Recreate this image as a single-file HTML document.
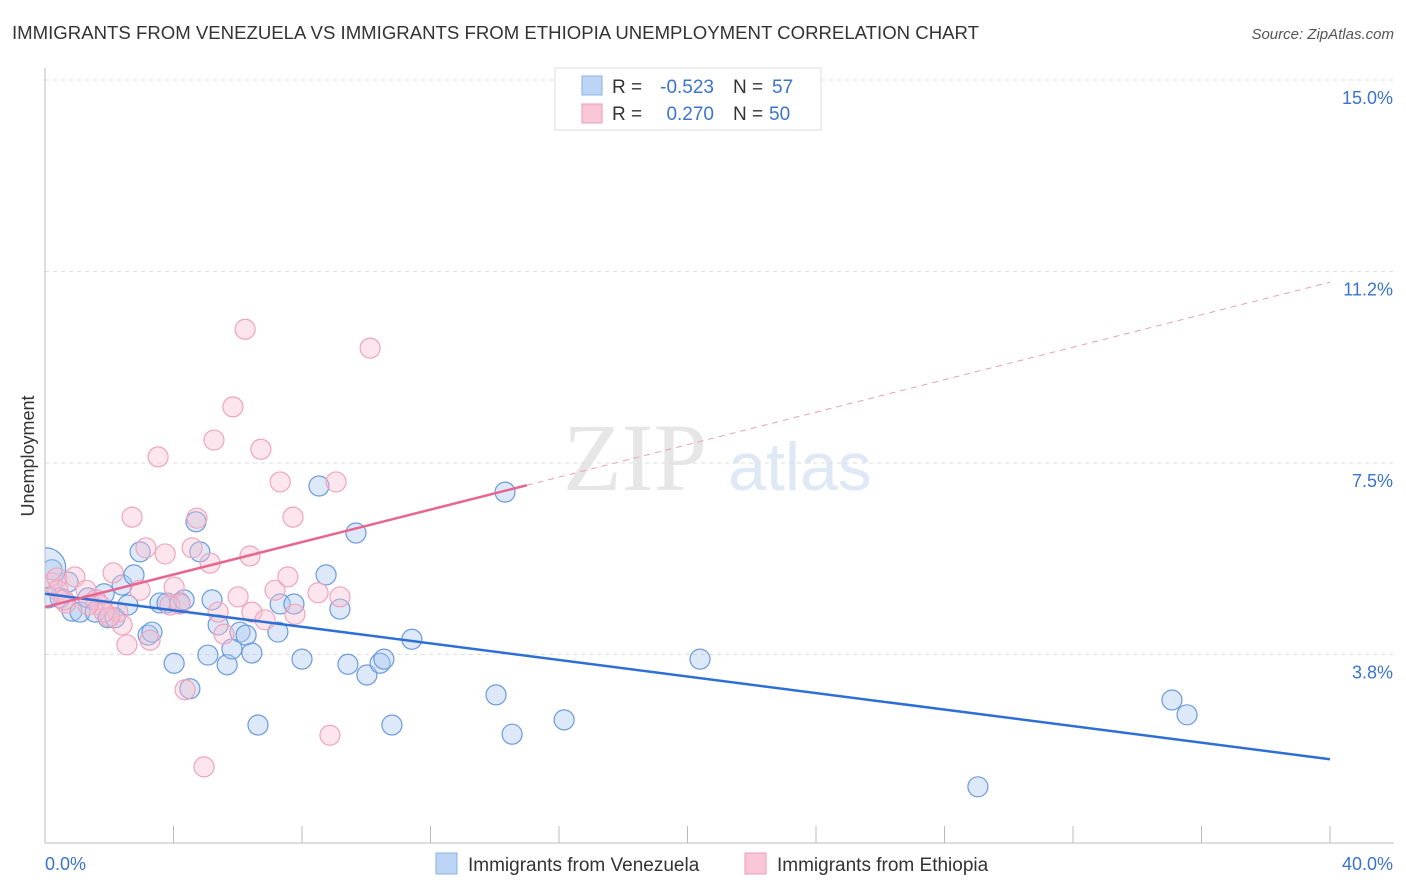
<!DOCTYPE html>
<html><head><meta charset="utf-8"><style>
body{margin:0;background:#fff;font-family:"Liberation Sans",sans-serif;}
svg{display:block}
</style></head><body>
<svg id="chart" width="1406" height="892">
<defs><clipPath id="plotclip"><rect x="45" y="60" width="1360" height="783"/></clipPath></defs>
<text x="12" y="39" font-size="18.6" fill="#333">IMMIGRANTS FROM VENEZUELA VS IMMIGRANTS FROM ETHIOPIA UNEMPLOYMENT CORRELATION CHART</text>
<text x="1394" y="39" font-size="15" fill="#555" font-style="italic" text-anchor="end">Source: ZipAtlas.com</text>
<text x="635" y="490" font-size="96" fill="#e6e6e6" font-family="Liberation Serif,serif" text-anchor="middle">ZIP</text>
<text x="800" y="490" font-size="68" fill="#dfe8f5" text-anchor="middle">atlas</text>
<text transform="translate(34,456) rotate(-90)" font-size="18" fill="#333" text-anchor="middle">Unemployment</text>
<g id="grid"></g><g id="axes"></g><g id="pts" clip-path="url(#plotclip)"></g><g id="lines"></g>
<g>
<rect x="555" y="68" width="266" height="62" fill="#fff" stroke="#ddd"/>
<rect x="582" y="76" width="20" height="19" fill="#bcd5f5" stroke="#8ab0e6"/>
<rect x="582" y="104" width="20" height="19" fill="#f9c6d6" stroke="#ee9ab5"/>
<text x="612" y="93" font-size="19" fill="#333">R =</text>
<text x="714" y="93" font-size="19" fill="#3a73d0" text-anchor="end">-0.523</text>
<text x="733" y="93" font-size="19" fill="#333">N =</text>
<text x="772" y="93" font-size="19" fill="#3a73d0">57</text>
<text x="612" y="120" font-size="19" fill="#333">R =</text>
<text x="714" y="120" font-size="19" fill="#3a73d0" text-anchor="end">0.270</text>
<text x="733" y="120" font-size="19" fill="#333">N =</text>
<text x="769" y="120" font-size="19" fill="#3a73d0">50</text>
</g>
<g>
<rect x="436" y="853" width="21" height="21" fill="#bcd5f5" stroke="#8ab0e6"/>
<text x="468" y="871" font-size="19" fill="#333">Immigrants from Venezuela</text>
<rect x="745" y="853" width="21" height="21" fill="#f9c6d6" stroke="#ee9ab5"/>
<text x="777" y="871" font-size="19" fill="#333">Immigrants from Ethiopia</text>
</g>
</svg>
<script>
const yTicks=[15,11.25,7.5,3.75];
const yTickLabels=["15.0%","11.2%","7.5%","3.8%"];
const xEnds=[0,40];
const xEndLabels=["0.0%","40.0%"];
const blueX=[0.22,0.47,0.72,0.84,1.09,1.34,1.56,1.84,1.96,2.18,2.40,2.58,2.77,2.96,3.21,3.33,3.58,3.80,4.02,4.20,4.33,4.51,4.70,4.82,5.07,5.20,5.39,5.67,5.82,6.07,6.26,6.44,6.63,7.25,7.32,7.75,8.00,8.53,8.75,9.18,9.43,9.68,10.02,10.43,10.55,10.80,11.42,14.04,14.32,14.54,16.16,20.39,29.04,35.08,35.55,0.10,0.02];
const blueY=[5.41,4.86,5.17,4.60,4.58,4.86,4.58,4.94,4.47,4.47,5.11,4.72,5.31,5.76,4.13,4.19,4.76,4.76,3.58,4.76,4.82,3.08,6.35,5.76,3.74,4.82,4.33,3.55,3.86,4.19,4.13,3.78,2.37,4.19,4.74,4.74,3.66,7.05,5.31,4.64,3.56,6.13,3.35,3.58,3.66,2.37,4.05,2.96,6.93,2.19,2.47,3.66,1.16,2.86,2.57,4.86,5.45];
const pinkX=[0.22,0.37,0.65,0.93,1.28,1.59,1.71,2.12,2.27,2.40,2.55,2.71,2.96,3.14,3.27,3.52,3.74,3.89,4.02,4.20,4.36,4.58,4.73,4.95,5.14,5.26,5.39,5.57,5.85,6.01,6.23,6.38,6.44,6.72,6.85,7.16,7.32,7.56,7.72,7.78,8.50,8.87,9.06,9.18,10.12,0.40,2.02,1.84,1.34,0.59];
const pinkY=[5.15,5.25,4.76,5.27,5.01,4.82,4.72,5.35,4.58,4.33,3.94,6.44,5.01,5.84,4.03,7.62,5.72,4.72,5.07,4.74,3.06,5.84,6.42,1.55,5.54,7.95,4.58,4.15,8.60,4.88,10.12,5.68,4.58,7.77,4.43,5.01,7.13,5.27,6.44,4.54,4.96,2.17,7.13,4.88,9.75,5.01,4.49,4.58,4.72,4.82];
const blueTrend=[4.94,1.70];
const pinkTrend=[4.68,11.04];
const pinkSolidEnd=15;
const NS="http://www.w3.org/2000/svg";
const X=v=>45+v*32.125, Y=v=>80+(15-v)*51.07;
function mk(tag,attrs,parent){const e=document.createElementNS(NS,tag);for(const k in attrs)e.setAttribute(k,attrs[k]);document.getElementById(parent).appendChild(e);return e;}
yTicks.forEach((t,i)=>{
 const l=mk('line',{x1:45,x2:1394,y1:Y(t),y2:Y(t),stroke:'#ddd','stroke-dasharray':'4,4'},'grid');
 
 
 const tx=mk('text',{x:1393,y:Y(t)+24,'font-size':18,fill:'#3a73d0','text-anchor':'end'},'grid');
 tx.textContent=yTickLabels[i];
 
 
});
const ax=mk('line',{x1:45,x2:1394,y1:843,y2:843,stroke:'#bbb'},'axes');


const ay=mk('line',{x1:45,x2:45,y1:68,y2:843,stroke:'#bbb'},'axes');


for(let i=1;i<=10;i++){const tk=mk('line',{x1:X(i*4),x2:X(i*4),y1:826,y2:843,stroke:'#bbb'},'axes');
 
 }
xEnds.forEach((v,i)=>{const t=mk('text',{x:i?1393:45,y:870,'font-size':18,fill:'#3a73d0','text-anchor':i?'end':'start'},'axes');t.textContent=xEndLabels[i];
 
 });
blueX.forEach((v,i)=>{const r=(i===blueX.length-1)?20:10;const c=mk('circle',{cx:X(v),cy:Y(blueY[i]),r:r,fill:'rgba(170,200,240,0.4)',stroke:'#6a9ade','stroke-width':1.2},'pts');
 
 });
pinkX.forEach((v,i)=>{const c=mk('circle',{cx:X(v),cy:Y(pinkY[i]),r:10,fill:'rgba(248,190,208,0.4)',stroke:'#f0a4bc','stroke-width':1.2},'pts');
 
 });
const bl=mk('line',{x1:X(0),y1:Y(blueTrend[0]),x2:X(40),y2:Y(blueTrend[1]),stroke:'#2d6fd6','stroke-width':2.5},'lines');


const pv=v=>pinkTrend[0]+(pinkTrend[1]-pinkTrend[0])*v/40;
const pl=mk('line',{x1:X(0),y1:Y(pinkTrend[0]),x2:X(pinkSolidEnd),y2:Y(pv(pinkSolidEnd)),stroke:'#e8658f','stroke-width':2.5},'lines');


const pd=mk('line',{x1:X(pinkSolidEnd),y1:Y(pv(pinkSolidEnd)),x2:X(40),y2:Y(pinkTrend[1]),stroke:'#e8a0b8','stroke-width':1,'stroke-dasharray':'6,5'},'lines');


</script>
</body></html>
